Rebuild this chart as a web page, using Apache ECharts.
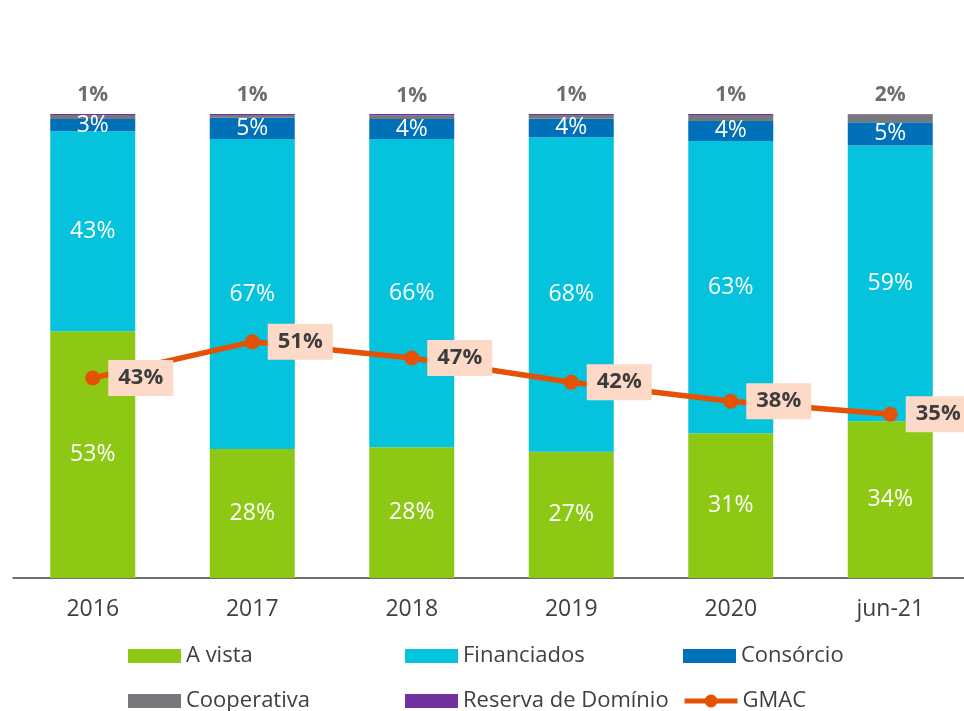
<!DOCTYPE html>
<html>
<head>
	<meta charset="utf-8">
	<title>GMAC</title>
	<script src="https://cdn.jsdelivr.net/npm/echarts@6/dist/echarts.min.js"></script>
	<style>
		html, body { margin: 0; padding: 0; background: #fff; overflow: hidden; }
		/* um pouco mais largo que a janela: o eixo continua além da borda direita */
		#main { width: 970px; height: 711px; }
	</style>
</head>
<body>
<div id="main"></div>
<script>
	// dados (%)
	var categorias = ['2016', '2017', '2018', '2019', '2020', 'jun-21'];
	var aVista = [53.2, 27.8, 28.2, 27.2, 31.2, 33.8];
	var financiados = [43.1, 66.8, 66.4, 67.8, 63.0, 59.4];
	var consorcio = [2.6, 4.6, 4.3, 4.0, 4.3, 5.0];
	var cooperativa = [0.9, 0.6, 0.8, 0.8, 1.3, 1.7];
	var reserva = [0.2, 0.2, 0.3, 0.2, 0.2, 0.1];
	var gmac = [43.1, 50.9, 47.4, 42.2, 38.1, 35.3];

	var fonte = '"Open Sans", Lato, sans-serif';
	var chart = echarts.init(document.getElementById('main'));

	var pct = function (p) { return Math.round(p.value) + '%'; };
	var dentro = {
		show: true,
		position: 'inside',
		color: '#fff',
		fontSize: 23,
		fontFamily: fonte,
		formatter: pct
	};

	function barra(nome, dados, cor, label) {
		return {
			name: nome,
			type: 'bar',
			stack: 'total',
			barWidth: 85,
			data: dados,
			itemStyle: { color: cor },
			label: label || { show: false },
			emphasis: { disabled: true }
		};
	}

	// uma legenda por item, para alinhar as colunas como no original
	function legenda(nome, x, y, linha) {
		return {
			left: x,
			top: y,
			padding: 0,
			data: [nome],
			icon: linha ? undefined : 'rect',
			itemWidth: 53,
			itemHeight: linha ? 16 : 14,
			itemGap: 5,
			lineStyle: { width: 5 },
			textStyle: { fontSize: 22, color: '#404040', fontFamily: fonte }
		};
	}

	chart.setOption({
		animation: false,
		textStyle: { fontFamily: fonte },
		grid: { left: 13, right: 0, top: 114, bottom: 133 },
		legend: [
			legenda('A vista', 128, 645),
			legenda('Financiados', 405, 645),
			legenda('Consórcio', 683, 645),
			legenda('Cooperativa', 128, 690),
			legenda('Reserva de Domínio', 405, 690),
			legenda('GMAC', 682, 690, true)
		],
		xAxis: {
			type: 'category',
			data: categorias,
			axisLine: { lineStyle: { color: '#404040', width: 1.5 } },
			axisTick: { show: false },
			axisLabel: { fontSize: 23, color: '#404040', margin: 20, fontFamily: fonte }
		},
		yAxis: {
			type: 'value',
			min: 0,
			max: 100,
			show: false,
			splitLine: { show: false }
		},
		series: [
			barra('A vista', aVista, '#8dc914', dentro),
			barra('Financiados', financiados, '#05c3dd', dentro),
			barra('Consórcio', consorcio, '#0071b9', dentro),
			barra('Cooperativa', cooperativa, '#77787b', {
				show: true,
				position: 'top',
				distance: 9,
				color: '#6d6e71',
				fontSize: 21,
				fontWeight: 'bold',
				fontFamily: fonte,
				formatter: pct
			}),
			barra('Reserva de Domínio', reserva, '#7030a0'),
			{
				name: 'GMAC',
				type: 'line',
				data: gmac,
				z: 5,
				symbol: 'circle',
				symbolSize: 15,
				lineStyle: { color: '#e35205', width: 5.5 },
				itemStyle: { color: '#e35205' },
				label: {
					show: true,
					position: 'right',
					distance: 8,
					backgroundColor: '#fdd9c8',
					padding: [7, 10, 7, 10],
					color: '#3d3d3d',
					fontSize: 22,
					fontWeight: 'bold',
					fontFamily: fonte,
					formatter: function (p) { return Math.round(p.value) + '%'; }
				},
				emphasis: { disabled: true }
			}
		]
	});
</script>
</body>
</html>
